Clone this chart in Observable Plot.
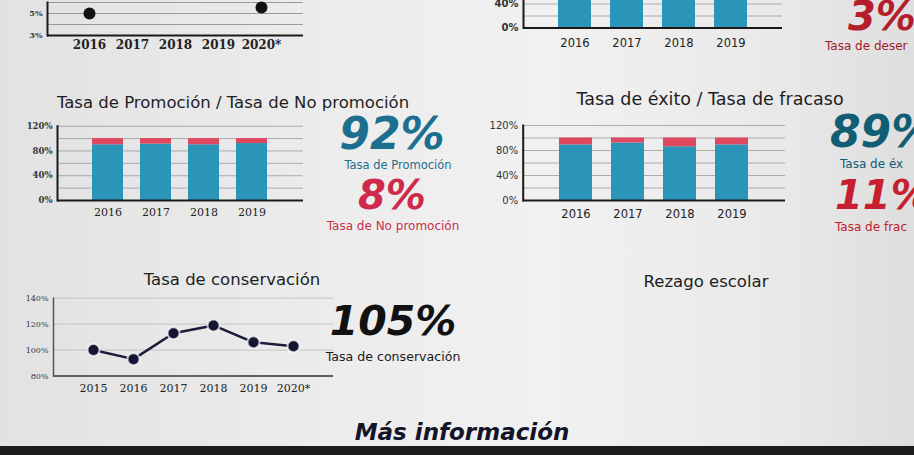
<!DOCTYPE html>
<html><head><meta charset="utf-8">
<script src="https://cdn.jsdelivr.net/npm/d3@7"></script>
<script src="https://cdn.jsdelivr.net/npm/@observablehq/plot@0.6"></script>
<style>
html,body{margin:0;padding:0;}
body{width:914px;height:455px;overflow:hidden;position:relative;
 background:linear-gradient(90deg,#e2e2e2 0%,#ececec 35%,#f1f1f1 60%,#e9e9e9 85%,#dedede 100%);
 font-family:"DejaVu Sans",sans-serif;}
.t{position:absolute;white-space:nowrap;line-height:1;}
#bezel{position:absolute;left:0;top:446px;width:914px;height:9px;background:#1c1c1c;}
</style></head><body>
<div id="bezel"></div>
<script>
// ---------- data ----------
const topLineYears = ["2016","2017","2018","2019","2020*"];
const topLineDotYears = ["2016","2020*"];
const topLineDotValues = [5.0, 5.55];

const retYears = ["2016","2017","2018","2019"];
const retValues = [97, 97, 97, 97];
const desercionValues = [3, 3, 3, 3];

const promoYears = ["2016","2017","2018","2019"];
const promoValues = [90, 91, 90, 92];
const noPromoValues = [10, 9, 10, 8];

const exitoYears = ["2016","2017","2018","2019"];
const exitoValues = [89, 92, 86, 89];
const fracasoValues = [11, 8, 14, 11];

const consYears = ["2015","2016","2017","2018","2019","2020*"];
const consValues = [100, 93, 113, 119, 106, 103];

const barTicks = [0, 40, 80, 120];
const barGrid = [20, 40, 60, 80, 100, 120];

// ---------- helpers ----------
const TEAL = "#2a95b8", RED = "#e0485f";
function place(svg, left, top) {
  svg.style.position = "absolute";
  svg.style.left = left + "px";
  svg.style.top = top + "px";
  document.body.appendChild(svg);
}
function text(str, x, y, css, anchor = "middle") {
  const d = document.createElement("div");
  d.className = "t";
  d.textContent = str;
  d.style.left = x + "px";
  d.style.top = y + "px";
  d.style.transform = anchor === "middle" ? "translate(-50%,-50%)" : "translate(0,-50%)";
  Object.assign(d.style, css);
  document.body.appendChild(d);
}

function stackedBars({years, a, b, left, top, width, height, ml, mr, mt, mb, pi, po, xFont, xSize, yFont, ySize, yWeight, xPad}) {
  const rows = [];
  years.forEach((yr, i) => {
    rows.push({year: yr, serie: "a", value: a[i]});
    rows.push({year: yr, serie: "b", value: b[i]});
  });
  const svg = Plot.plot({
    width, height, marginLeft: ml, marginRight: mr, marginTop: mt, marginBottom: mb,
    style: {background: "transparent", overflow: "visible"},
    x: {domain: years, paddingInner: pi, paddingOuter: po, label: null},
    y: {domain: [0, 120], label: null},
    color: {domain: ["a", "b"], range: [TEAL, RED]},
    marks: [
      Plot.gridY(barGrid, {stroke: "#777", strokeOpacity: 0.55, strokeWidth: 1}),
      Plot.barY(rows, {x: "year", y: "value", fill: "serie"}),
      Plot.ruleY([0], {stroke: "#1a1a1a", strokeWidth: 2}),
      Plot.frame({anchor: "left", stroke: "#1a1a1a", strokeWidth: 2}),
      Plot.axisY({ticks: barTicks, tickFormat: d => d + "%", tickSize: 0, tickPadding: 5,
        fontFamily: yFont, fontSize: ySize, fontWeight: yWeight, fill: "#333"}),
      Plot.axisX({tickSize: 0, tickPadding: xPad, fontFamily: xFont, fontSize: xSize, fill: "#222"})
    ]
  });
  place(svg, left, top);
}

// ---------- top-left partial line chart ----------
{
  const svg = Plot.plot({
    width: 310, height: 65, marginLeft: 47, marginRight: 7, marginTop: 10, marginBottom: 22,
    style: {background: "transparent", overflow: "visible"},
    x: {domain: topLineYears, type: "point", padding: 0.94, label: null},
    y: {domain: [3, 6], label: null},
    marks: [
      Plot.gridY([4, 5, 6], {stroke: "#666", strokeOpacity: 0.6}),
      Plot.ruleY([3], {stroke: "#1a1a1a", strokeWidth: 2}),
      Plot.frame({anchor: "left", stroke: "#1a1a1a", strokeWidth: 2}),
      Plot.dot(topLineDotYears.map((y, i) => ({year: y, v: topLineDotValues[i]})),
        {x: "year", y: "v", r: 6, fill: "#111"}),
      Plot.axisY({ticks: [3, 5], tickFormat: d => d + "%", tickSize: 0, tickPadding: 5,
        fontFamily: "DejaVu Serif", fontSize: 8, fontWeight: "bold", fill: "#333"}),
      Plot.axisX({tickSize: 0, tickPadding: 5, fontFamily: "DejaVu Serif", fontSize: 12, fontWeight: "bold", fill: "#222"})
    ]
  });
  place(svg, 0, -8);
}

// ---------- top-middle partial bar chart ----------
stackedBars({years: retYears, a: retValues, b: desercionValues, left: 460, top: -55, width: 330, height: 107.5,
  ml: 63, mr: 8, mt: 10.5, mb: 25, pi: 0.37, po: 0.67, xFont: "DejaVu Sans", xSize: 11.5,
  yFont: "DejaVu Sans", ySize: 10, yWeight: "bold", xPad: 10.5});

// ---------- promoción ----------
stackedBars({years: promoYears, a: promoValues, b: noPromoValues, left: 0, top: 115, width: 310, height: 110,
  ml: 57, mr: 7, mt: 10.7, mb: 25, pi: 0.35, po: 0.69, xFont: "DejaVu Serif", xSize: 11,
  yFont: "DejaVu Serif", ySize: 8.5, yWeight: "bold", xPad: 8});

// ---------- éxito ----------
stackedBars({years: exitoYears, a: exitoValues, b: fracasoValues, left: 460, top: 115, width: 330, height: 110,
  ml: 62.7, mr: 5, mt: 10, mb: 25, pi: 0.37, po: 0.67, xFont: "DejaVu Sans", xSize: 11.5,
  yFont: "DejaVu Sans", ySize: 10, yWeight: "normal", xPad: 9});

// ---------- conservación ----------
{
  const data = consYears.map((y, i) => ({year: y, v: consValues[i]}));
  const svg = Plot.plot({
    width: 340, height: 113.5, marginLeft: 53, marginRight: 7, marginTop: 10.7, marginBottom: 25,
    style: {background: "transparent", overflow: "visible"},
    x: {domain: consYears, type: "point", padding: 0.965, label: null},
    y: {domain: [80, 140], label: null},
    marks: [
      Plot.gridY([100, 120, 140], {stroke: "#bbb", strokeOpacity: 0.8}),
      Plot.ruleY([80], {stroke: "#333", strokeWidth: 1.5}),
      Plot.frame({anchor: "left", stroke: "#555", strokeWidth: 1.5}),
      Plot.line(data, {x: "year", y: "v", stroke: "#1b1b3a", strokeWidth: 2.5}),
      Plot.dot(data, {x: "year", y: "v", r: 6, fill: "#141434", stroke: "#fff", strokeOpacity: 0.7, strokeWidth: 2}),
      Plot.axisY({ticks: [80, 100, 120, 140], tickFormat: d => d + "%", tickSize: 0, tickPadding: 5,
        fontFamily: "DejaVu Serif", fontSize: 8, fill: "#333"}),
      Plot.axisX({tickSize: 0, tickPadding: 8.5, fontFamily: "DejaVu Serif", fontSize: 11, fill: "#222"})
    ]
  });
  place(svg, 0, 287);
}

// ---------- texts ----------
const title = {fontSize: "16.5px", color: "#1e1e1e"};
text("Tasa de Promoción / Tasa de No promoción", 233, 103, title);
text("Tasa de éxito / Tasa de fracaso", 710, 100, {fontSize: "17.5px", color: "#1e1e1e"});
text("Tasa de conservación", 232, 280, title);
text("Rezago escolar", 706, 282, title);

const big = (c, s = 44) => ({fontSize: s + "px", lineHeight: "0.72", fontWeight: "bold", fontStyle: "italic", color: c});
const small = (c, s = 12) => ({fontSize: s + "px", lineHeight: "0.9", color: c});
text("92%", 392, 134, big("#1c6f8f"));
text("Tasa de Promoción", 398, 165, small("#1f6d8c", 11.5));
text("8%", 392, 195, big("#cf2a4b", 40));
text("Tasa de No promoción", 393, 226, small("#c8304a"));

text("89%", 830, 132, big("#115d74"), "left");
text("Tasa de éx", 840, 164, small("#145c72"), "left");
text("11%", 835, 195, big("#c51f30", 40), "left");
text("Tasa de frac", 835, 227, small("#c0202e"), "left");

text("3%", 848, 16, big("#b41d2b", 40), "left");
text("Tasa de deser", 825, 46, small("#a0202a"), "left");

text("105%", 393, 322, big("#111", 41));
text("Tasa de conservación", 393, 357, small("#1a1a1a", 12.6));

text("Más información", 462, 432, {fontSize: "23px", lineHeight: "0.9", fontWeight: "bold", fontStyle: "italic", color: "#141428"});
</script>
</body></html>
